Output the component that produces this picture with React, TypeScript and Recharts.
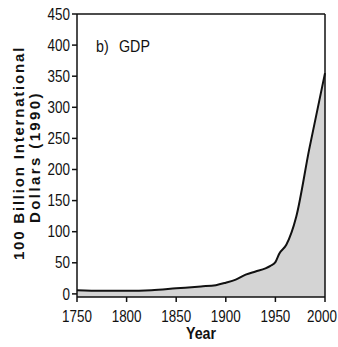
import React from 'react';
import { AreaChart, Area, XAxis, YAxis, ReferenceLine, Customized } from 'recharts';

const years = [1750, 1775, 1800, 1825, 1850, 1875, 1890, 1900, 1910, 1920, 1930, 1940, 1945, 1950, 1954, 1961, 1971, 1984, 2000];
const gdp = [6, 5, 5, 6, 9, 12, 14, 18, 23, 31, 36, 41, 45, 51, 65, 79, 124, 232, 355];
const xTicks = [1750, 1800, 1850, 1900, 1950, 2000];
const yTicks = [0, 50, 100, 150, 200, 250, 300, 350, 400, 450];
const panelLabel = ['b)', 'GDP'];
const yLabelLines = ['100 Billion International', 'Dollars (1990)'];
const xLabel = 'Year';

const data = years.map((y, i) => ({ year: y, gdp: gdp[i] }));

const FONT = '"Liberation Sans", Arial, sans-serif';
const SX = 0.84;

const XTick = (props: any) => {
  const { x, y, payload } = props;
  return (
    <text transform={`translate(${x},${y + 17.5}) scale(${SX},1)`} textAnchor="middle"
      style={{ fontFamily: FONT, fontSize: 16 }} fill="#111">
      {payload.value}
    </text>
  );
};

const YTick = (props: any) => {
  const { x, y, payload } = props;
  return (
    <text transform={`translate(${x},${y + 5.7}) scale(${SX},1)`} textAnchor="end"
      style={{ fontFamily: FONT, fontSize: 16 }} fill="#111">
      {payload.value}
    </text>
  );
};

const YLabel = () => {
  const cy = 153;
  const st = { fontFamily: 'Arial, "Liberation Sans", sans-serif', fontWeight: 'bold' as const, fontSize: 15, letterSpacing: 1.8 };
  return (
    <g>
      <text x={18} y={cy} transform={`rotate(-90, 18, ${cy})`} textAnchor="middle" dominantBaseline="central"
        style={st} fill="#111">
        {yLabelLines[0]}
      </text>
      <text x={34} y={cy + 4} transform={`rotate(-90, 34, ${cy + 4})`} textAnchor="middle" dominantBaseline="central"
        style={{ ...st, letterSpacing: 2.4 }} fill="#111">
        {yLabelLines[1]}
      </text>
    </g>
  );
};

const PanelText = () => (
  <g>
    <text transform={`translate(96,52) scale(${SX},1)`} style={{ fontFamily: FONT, fontSize: 17 }} fill="#111">{panelLabel[0]}</text>
    <text transform={`translate(119,52) scale(${SX},1)`} style={{ fontFamily: FONT, fontSize: 17 }} fill="#111">{panelLabel[1]}</text>
  </g>
);

const XLabel = () => (
  <text transform={`translate(201,339) scale(${SX},1)`} textAnchor="middle"
    style={{ fontFamily: FONT, fontSize: 17, fontWeight: 'bold' }} fill="#111">{xLabel}</text>
);

export default function App() {
  return (
    <div style={{ position: 'absolute', left: 0, top: 0, background: '#fff' }}>
      <AreaChart width={338} height={347} data={data} margin={{ top: 14, right: 13, left: 0, bottom: 0 }}>
        <XAxis dataKey="year" type="number" domain={[1750, 2000]} ticks={xTicks} height={50}
          stroke="#111" strokeWidth={1.5} tickSize={5} tick={<XTick />} />
        <YAxis type="number" domain={[-5, 450]} ticks={yTicks} width={77} interval={0}
          stroke="#111" strokeWidth={1.5} tickSize={5} tick={<YTick />} />
        <ReferenceLine y={450} stroke="#111" strokeWidth={1.5} />
        <ReferenceLine x={2000} stroke="#111" strokeWidth={1.5} />
        <Area dataKey="gdp" type="monotone" stroke="#111" strokeWidth={2} fill="#d4d4d4" fillOpacity={1}
          baseValue="dataMin" isAnimationActive={false} dot={false} />
        <Customized component={PanelText} />
        <Customized component={YLabel} />
        <Customized component={XLabel} />
      </AreaChart>
    </div>
  );
}
